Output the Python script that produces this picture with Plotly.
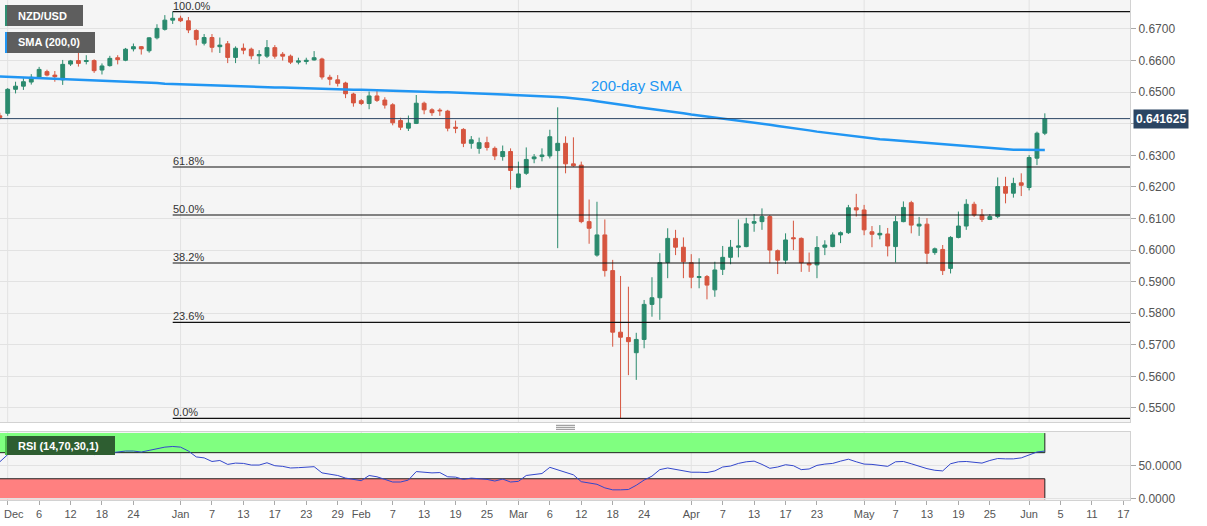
import numpy as np
import pandas as pd
import plotly.graph_objects as go

# ---------------- data (daily NZD/USD, 29 Nov 2019 -> 3 Jun 2020, weekdays) ----------------
dates = pd.bdate_range("2019-11-29", "2020-06-03")

opens = [
    0.6425, 0.6433, 0.6509, 0.6519, 0.6532, 0.6547, 0.6565, 0.6554, 0.6539, 0.6589,
    0.6600, 0.6597, 0.6600, 0.6570, 0.6584, 0.6609, 0.6601, 0.6637, 0.6644, 0.6631,
    0.6672, 0.6699, 0.6728, 0.6734, 0.6726, 0.6695, 0.6655, 0.6673, 0.6644, 0.6653,
    0.6610, 0.6639, 0.6636, 0.6615, 0.6614, 0.6641, 0.6620, 0.6614, 0.6595, 0.6597,
    0.6602, 0.6605, 0.6547, 0.6539, 0.6529, 0.6494, 0.6473, 0.6464, 0.6488, 0.6475,
    0.6460, 0.6410, 0.6386, 0.6401, 0.6465, 0.6444, 0.6443, 0.6440, 0.6389, 0.6382,
    0.6338, 0.6322, 0.6340, 0.6322, 0.6296, 0.6312, 0.6199, 0.6243, 0.6289, 0.6296,
    0.6298, 0.6315, 0.6338, 0.6273, 0.6269, 0.6090, 0.5984, 0.6048, 0.5935, 0.5740,
    0.5723, 0.5675, 0.5717, 0.5828, 0.5849, 0.5961, 0.6037, 0.6009, 0.5960, 0.5913,
    0.5916, 0.5874, 0.5939, 0.5977, 0.6009, 0.6011, 0.6085, 0.6090, 0.6106, 0.5998,
    0.5968, 0.6039, 0.6037, 0.5958, 0.5953, 0.6009, 0.6011, 0.6048, 0.6055, 0.6134,
    0.6127, 0.6058, 0.6048, 0.6051, 0.6011, 0.6090, 0.6150, 0.6076, 0.6082, 0.5992,
    0.6002, 0.5942, 0.6040, 0.6076, 0.6145, 0.6111, 0.6097, 0.6106, 0.6201, 0.6180,
    0.6213, 0.6198, 0.6291, 0.6370,
]
highs = [
    0.6435, 0.6513, 0.6533, 0.6544, 0.6557, 0.6580, 0.6571, 0.6567, 0.6602, 0.6602,
    0.6639, 0.6617, 0.6604, 0.6591, 0.6615, 0.6617, 0.6640, 0.6654, 0.6646, 0.6674,
    0.6715, 0.6744, 0.6755, 0.6742, 0.6738, 0.6699, 0.6684, 0.6684, 0.6673, 0.6662,
    0.6645, 0.6654, 0.6641, 0.6633, 0.6665, 0.6649, 0.6627, 0.6619, 0.6609, 0.6609,
    0.6630, 0.6609, 0.6555, 0.6554, 0.6533, 0.6498, 0.6478, 0.6502, 0.6505, 0.6484,
    0.6465, 0.6419, 0.6426, 0.6491, 0.6470, 0.6449, 0.6449, 0.6444, 0.6410, 0.6386,
    0.6361, 0.6356, 0.6359, 0.6328, 0.6331, 0.6322, 0.6280, 0.6325, 0.6304, 0.6322,
    0.6381, 0.6452, 0.6360, 0.6357, 0.6280, 0.6160, 0.6153, 0.6097, 0.5969, 0.5918,
    0.5884, 0.5738, 0.5842, 0.5914, 0.5990, 0.6069, 0.6064, 0.6040, 0.5987, 0.5974,
    0.5921, 0.5963, 0.6013, 0.6032, 0.6097, 0.6102, 0.6114, 0.6132, 0.6111, 0.6002,
    0.6053, 0.6093, 0.6040, 0.5992, 0.6044, 0.6031, 0.6056, 0.6059, 0.6143, 0.6178,
    0.6143, 0.6076, 0.6079, 0.6070, 0.6108, 0.6154, 0.6156, 0.6105, 0.6101, 0.6008,
    0.6016, 0.6044, 0.6122, 0.6161, 0.6153, 0.6130, 0.6114, 0.6230, 0.6232, 0.6229,
    0.6243, 0.6301, 0.6375, 0.6433,
]
lows = [
    0.6414, 0.6425, 0.6496, 0.6507, 0.6524, 0.6542, 0.6550, 0.6533, 0.6523, 0.6583,
    0.6581, 0.6588, 0.6561, 0.6556, 0.6581, 0.6588, 0.6598, 0.6629, 0.6619, 0.6625,
    0.6667, 0.6695, 0.6716, 0.6722, 0.6687, 0.6648, 0.6648, 0.6626, 0.6624, 0.6592,
    0.6592, 0.6620, 0.6604, 0.6589, 0.6608, 0.6606, 0.6600, 0.6589, 0.6588, 0.6588,
    0.6600, 0.6540, 0.6522, 0.6518, 0.6481, 0.6454, 0.6459, 0.6446, 0.6469, 0.6448,
    0.6395, 0.6380, 0.6377, 0.6399, 0.6430, 0.6425, 0.6425, 0.6376, 0.6370, 0.6326,
    0.6321, 0.6305, 0.6315, 0.6285, 0.6283, 0.6192, 0.6196, 0.6238, 0.6275, 0.6281,
    0.6290, 0.6006, 0.6243, 0.6264, 0.6085, 0.6020, 0.5979, 0.5916, 0.5694, 0.5467,
    0.5604, 0.5589, 0.5689, 0.5789, 0.5779, 0.5911, 0.5984, 0.5911, 0.5879, 0.5879,
    0.5844, 0.5852, 0.5921, 0.5955, 0.5977, 0.6009, 0.6058, 0.6064, 0.5958, 0.5924,
    0.5956, 0.6000, 0.5931, 0.5931, 0.5911, 0.5984, 0.6009, 0.6022, 0.6051, 0.6106,
    0.6047, 0.6009, 0.6034, 0.5980, 0.5961, 0.6088, 0.6053, 0.6045, 0.5956, 0.5985,
    0.5921, 0.5926, 0.6037, 0.6064, 0.6105, 0.6089, 0.6095, 0.6101, 0.6148, 0.6166,
    0.6171, 0.6189, 0.6269, 0.6364,
]
closes = [
    0.6420, 0.6509, 0.6519, 0.6533, 0.6547, 0.6572, 0.6554, 0.6549, 0.6588, 0.6599,
    0.6591, 0.6600, 0.6568, 0.6583, 0.6607, 0.6603, 0.6636, 0.6644, 0.6637, 0.6672,
    0.6702, 0.6728, 0.6734, 0.6726, 0.6697, 0.6667, 0.6673, 0.6642, 0.6649, 0.6610,
    0.6639, 0.6633, 0.6615, 0.6619, 0.6641, 0.6614, 0.6614, 0.6595, 0.6599, 0.6601,
    0.6609, 0.6548, 0.6541, 0.6528, 0.6495, 0.6466, 0.6464, 0.6488, 0.6474, 0.6459,
    0.6403, 0.6389, 0.6402, 0.6465, 0.6444, 0.6435, 0.6441, 0.6386, 0.6386, 0.6338,
    0.6349, 0.6340, 0.6325, 0.6298, 0.6312, 0.6252, 0.6241, 0.6287, 0.6295, 0.6301,
    0.6359, 0.6338, 0.6273, 0.6267, 0.6090, 0.6069, 0.6048, 0.5935, 0.5740, 0.5724,
    0.5710, 0.5717, 0.5828, 0.5849, 0.5960, 0.6037, 0.6009, 0.5963, 0.5914, 0.5916,
    0.5889, 0.5937, 0.5977, 0.6009, 0.6013, 0.6083, 0.6090, 0.6106, 0.6000, 0.5968,
    0.6032, 0.6036, 0.5960, 0.5953, 0.6008, 0.6016, 0.6048, 0.6055, 0.6134, 0.6127,
    0.6064, 0.6050, 0.6053, 0.6013, 0.6090, 0.6135, 0.6079, 0.6082, 0.5990, 0.6004,
    0.5935, 0.6040, 0.6076, 0.6145, 0.6111, 0.6097, 0.6106, 0.6201, 0.6180, 0.6211,
    0.6205, 0.6293, 0.6370, 0.641625,
]
sma200 = [
    0.6550, 0.6549, 0.6548, 0.6547, 0.6546, 0.6545, 0.6544, 0.6543, 0.6542, 0.6541,
    0.6540, 0.6538, 0.6537, 0.6536, 0.6535, 0.6534, 0.6533, 0.6532, 0.6531, 0.6530,
    0.6529, 0.6527, 0.6526, 0.6525, 0.6524, 0.6523, 0.6522, 0.6522, 0.6521, 0.6520,
    0.6519, 0.6518, 0.6518, 0.6517, 0.6516, 0.6515, 0.6515, 0.6514, 0.6514, 0.6513,
    0.6512, 0.6511, 0.6510, 0.6509, 0.6509, 0.6508, 0.6508, 0.6507, 0.6506, 0.6506,
    0.6505, 0.6505, 0.6504, 0.6503, 0.6502, 0.6501, 0.6500, 0.6500, 0.6499, 0.6498,
    0.6497, 0.6496, 0.6495, 0.6495, 0.6494, 0.6493, 0.6492, 0.6490, 0.6489, 0.6488,
    0.6486, 0.6485, 0.6483, 0.6481, 0.6478, 0.6475, 0.6471, 0.6468, 0.6464, 0.6461,
    0.6457, 0.6453, 0.6450, 0.6447, 0.6443, 0.6440, 0.6437, 0.6433, 0.6429, 0.6426,
    0.6422, 0.6419, 0.6416, 0.6412, 0.6409, 0.6406, 0.6403, 0.6400, 0.6397, 0.6393,
    0.6390, 0.6386, 0.6383, 0.6379, 0.6375, 0.6372, 0.6368, 0.6365, 0.6362, 0.6358,
    0.6356, 0.6353, 0.6351, 0.6349, 0.6347, 0.6344, 0.6342, 0.6340, 0.6338, 0.6336,
    0.6334, 0.6332, 0.6330, 0.6328, 0.6326, 0.6324, 0.6322, 0.6321, 0.6319, 0.6318,
    0.6318, 0.6317, 0.6317, 0.6317,
]
rsi14 = [
    56, 67, 70, 70.5, 71, 71.5, 70.5, 69, 70, 71,
    71, 69, 67, 68, 69.5, 71, 72.5, 72.5, 71, 73.5,
    76, 78.5, 79.5, 78.5, 72.5, 63.5, 62, 56.5, 58, 52,
    54, 53.5, 51, 51, 54.5, 50, 49, 46.5, 47, 47.5,
    48.5, 39, 37, 35, 31, 28.5, 27, 35, 33, 29,
    25, 25, 28, 41, 40, 39, 39.5, 33, 32.5, 29,
    31, 30.5, 29, 26.5, 29.5, 25, 26, 35, 36.5, 38,
    47.5, 43.5, 39.5, 36, 25.5, 24, 21.5, 16, 13, 13,
    13.5, 20, 28, 34, 44, 46.5, 44.5, 41.5, 40, 40,
    39.5, 42, 48, 49.5, 53.5, 56, 57, 52, 46, 48,
    51.5, 50, 44, 45, 50.5, 52.5, 53.5, 57, 60, 56,
    52.5, 52, 51, 49, 56, 56.5, 53, 49, 45.5, 43,
    42, 53, 56, 56.5, 55.5, 54, 58, 61, 60.5, 60.5,
    62, 66.5, 71, 72.5,
]

tick_dates = ["2019-12-02", "2019-12-06", "2019-12-12", "2019-12-18", "2019-12-24",
              "2020-01-01", "2020-01-07", "2020-01-13", "2020-01-17", "2020-01-23", "2020-01-29",
              "2020-02-03", "2020-02-07", "2020-02-13", "2020-02-19", "2020-02-25",
              "2020-03-02", "2020-03-06", "2020-03-12", "2020-03-18", "2020-03-24",
              "2020-04-01", "2020-04-07", "2020-04-13", "2020-04-17", "2020-04-23",
              "2020-05-01", "2020-05-07", "2020-05-13", "2020-05-19", "2020-05-25",
              "2020-06-01", "2020-06-05", "2020-06-11", "2020-06-17"]
tick_labels = ["Dec", "6", "12", "18", "24", "Jan", "7", "13", "17", "23", "29",
               "Feb", "7", "13", "19", "25", "Mar", "6", "12", "18", "24",
               "Apr", "7", "13", "17", "23", "May", "7", "13", "19", "25",
               "Jun", "5", "11", "17"]
month_dates = ["2019-12-02", "2020-01-01", "2020-02-03", "2020-03-02",
               "2020-04-01", "2020-05-01", "2020-06-01"]
fib_ratios = [1.0, 0.618, 0.5, 0.382, 0.236, 0.0]
sma_label_date = "2020-03-13"
sma_label_price = 0.6520

# ---------------- helpers: trading-day positions ----------------
ORIGIN = np.datetime64("2019-12-02")


def tpos(d):
    return int(np.busday_count(ORIGIN, np.datetime64(pd.Timestamp(d).date(), "D")))


xs = [tpos(d) for d in dates]
tickvals = [tpos(d) for d in tick_dates]
month_pos = [tpos(d) for d in month_dates]

W, H = 1207, 526
ML, MR, MT, MB = 0, 77, 0, 26
PW, PH = W - ML - MR, H - MT - MB


def px(x):
    return x / PW


def py(y):
    return 1 - y / PH


X_RANGE = [-0.98, 142.84]
Y_RANGE = [0.54556, 0.67918]
R_RANGE = [-2.6, 101.7]

GREEN = "#2a8a6d"
RED = "#d6553f"
BLUE = "#2196f3"

fig = go.Figure()

fig.add_trace(go.Candlestick(
    x=xs, open=opens, high=highs, low=lows, close=closes,
    increasing=dict(line=dict(color=GREEN, width=1), fillcolor=GREEN),
    decreasing=dict(line=dict(color=RED, width=1), fillcolor=RED),
    whiskerwidth=0, xaxis="x", yaxis="y", showlegend=False, hoverinfo="skip",
))
fig.add_trace(go.Scatter(
    x=xs, y=sma200, mode="lines", line=dict(color=BLUE, width=2.5),
    xaxis="x", yaxis="y", showlegend=False, hoverinfo="skip",
))
fig.add_trace(go.Scatter(
    x=xs, y=rsi14, mode="lines", line=dict(color="#3347cc", width=1),
    xaxis="x2", yaxis="y2", showlegend=False, hoverinfo="skip",
))

shapes = []
annotations = []

# month vertical grid lines
for m in month_pos:
    for yr in ("y domain", "y2 domain"):
        shapes.append(dict(type="line", xref="x", yref=yr, x0=m, x1=m, y0=0, y1=1,
                           line=dict(color="#e2e2e2", width=1), layer="below"))

# Fibonacci retracement levels
hi = max(highs)
lo = min(lows)
hi_pos = xs[highs.index(hi)]
for r in fib_ratios:
    lvl = lo + r * (hi - lo)
    shapes.append(dict(type="line", xref="x", yref="y", x0=hi_pos, x1=X_RANGE[1],
                       y0=lvl, y1=lvl, line=dict(color="#111111", width=1.2)))
    annotations.append(dict(x=hi_pos, y=lvl, xref="x", yref="y", text=f"{r*100:.1f}%",
                            showarrow=False, xanchor="left", yanchor="bottom", xshift=-2,
                            yshift=-2, font=dict(size=11, color="#333333",
                                                 family="Liberation Sans, Arial")))

# current price line + label
last = closes[-1]
shapes.append(dict(type="line", xref="x", yref="y", x0=X_RANGE[0], x1=X_RANGE[1],
                   y0=last, y1=last, line=dict(color="#2b4563", width=1)))
annotations.append(dict(x=1, y=last, xref="paper", yref="y", text=f"<b>{last:.6f}</b>",
                        showarrow=False, xanchor="left", yanchor="middle", xshift=3,
                        bgcolor="#2b4563", borderpad=2,
                        font=dict(size=12, color="white", family="Liberation Sans, Arial")))

# SMA label
annotations.append(dict(x=tpos(sma_label_date), y=sma_label_price, xref="x", yref="y",
                        text="200-day SMA", showarrow=False, xanchor="left", yanchor="middle",
                        font=dict(size=15, color=BLUE, family="Liberation Sans, Arial")))

# RSI zones
last_pos = xs[-1]
shapes.append(dict(type="rect", xref="x", yref="y2", x0=X_RANGE[0], x1=last_pos, y0=70, y1=100,
                   fillcolor="#80ff80", line=dict(width=0), layer="below"))
shapes.append(dict(type="rect", xref="x", yref="y2", x0=X_RANGE[0], x1=last_pos, y0=-1.5, y1=30,
                   fillcolor="#ff8080", line=dict(width=0), layer="below"))
for y0, y1 in ((70, 70), (30, 30)):
    shapes.append(dict(type="line", xref="x", yref="y2", x0=X_RANGE[0], x1=last_pos,
                       y0=y0, y1=y1, line=dict(color="#222222", width=1), layer="below"))
for y0, y1 in ((70, 100), (-1.5, 30)):
    shapes.append(dict(type="line", xref="x", yref="y2", x0=last_pos, x1=last_pos,
                       y0=y0, y1=y1, line=dict(color="#222222", width=1), layer="below"))


# top-left info boxes
def info_box(x0, x1, y0, y1, strip, text, bg):
    shapes.append(dict(type="rect", xref="paper", yref="paper", x0=px(x0), x1=px(x1),
                       y0=py(y1), y1=py(y0), fillcolor=bg, line=dict(width=0), layer="above"))
    shapes.append(dict(type="rect", xref="paper", yref="paper", x0=px(x0), x1=px(x0 + 2),
                       y0=py(y1), y1=py(y0), fillcolor=strip, line=dict(width=0), layer="above"))
    annotations.append(dict(x=px(x0 + 11), y=py((y0 + y1) / 2), xref="paper", yref="paper",
                            text=f"<b>{text}</b>", showarrow=False, xanchor="left",
                            yanchor="middle",
                            font=dict(size=11, color="white", family="Liberation Sans, Arial")))


info_box(5, 83, 5, 26, "#2f8f72", "NZD/USD", "#5e5e5e")
info_box(5, 95, 32, 53, BLUE, "SMA (200,0)", "#5e5e5e")
info_box(5, 115, 436, 455, "#4fc04f", "RSI (14,70,30,1)", "#2e5e31")

# panel resize grip
for gy in (425.3, 427.3, 429.3):
    shapes.append(dict(type="line", xref="paper", yref="paper", x0=px(556), x1=px(575),
                       y0=py(gy), y1=py(gy), line=dict(color="#8a8a8a", width=1)))

axis_font = dict(family="Liberation Sans, Arial", color="#555555")

# the first tick label sits at the left page edge: draw it as a left-anchored text
shown_ticktext = [""] + tick_labels[1:]
annotations.append(dict(x=px(1.5), y=py(513.5), xref="paper", yref="paper",
                        text=tick_labels[0], showarrow=False, xanchor="left",
                        yanchor="middle", font=dict(size=11, **axis_font)))

fig.update_layout(
    width=W, height=H,
    margin=dict(l=ML, r=MR, t=MT, b=MB, pad=0, autoexpand=False),
    paper_bgcolor="white",
    plot_bgcolor="#f5f5f5",
    showlegend=False,
    shapes=shapes,
    annotations=annotations,
    xaxis=dict(domain=[0, 1], range=X_RANGE, anchor="y", showticklabels=False, ticks="",
               showgrid=False, zeroline=False, showline=True, mirror=True, automargin=False,
               linecolor="#d2d2d2", rangeslider=dict(visible=False), fixedrange=True),
    xaxis2=dict(domain=[0, 1], range=X_RANGE, anchor="y2", matches="x", automargin=False,
                tickmode="array", tickvals=tickvals, ticktext=shown_ticktext,
                ticks="outside", ticklen=4, tickcolor="#aaaaaa",
                tickfont=dict(size=11, **axis_font), showgrid=False, zeroline=False,
                showline=True, mirror=True, linecolor="#d2d2d2"),
    yaxis=dict(domain=[py(422), 1], range=Y_RANGE, side="right", anchor="x", automargin=False,
               tick0=0.55, dtick=0.01, tickformat=".4f", ticks="outside", ticklen=5,
               tickcolor="#aaaaaa", tickfont=dict(size=12, **axis_font),
               showgrid=True, gridcolor="#e2e2e2", zeroline=False,
               showline=True, mirror=True, linecolor="#d2d2d2"),
    yaxis2=dict(domain=[0, py(432)], range=R_RANGE, side="right", anchor="x2", automargin=False,
                tickmode="array", tickvals=[0, 50], ticktext=["0.0000", "50.0000"],
                ticks="outside", ticklen=5, tickcolor="#aaaaaa",
                tickfont=dict(size=12, **axis_font), showgrid=True, gridcolor="#e2e2e2",
                zeroline=False, showline=True, mirror=True, linecolor="#d2d2d2"),
)

fig.write_html(
    "out.html",
    config={"displayModeBar": False},
    post_script="document.body.style.margin='0';document.body.style.padding='0';",
)
